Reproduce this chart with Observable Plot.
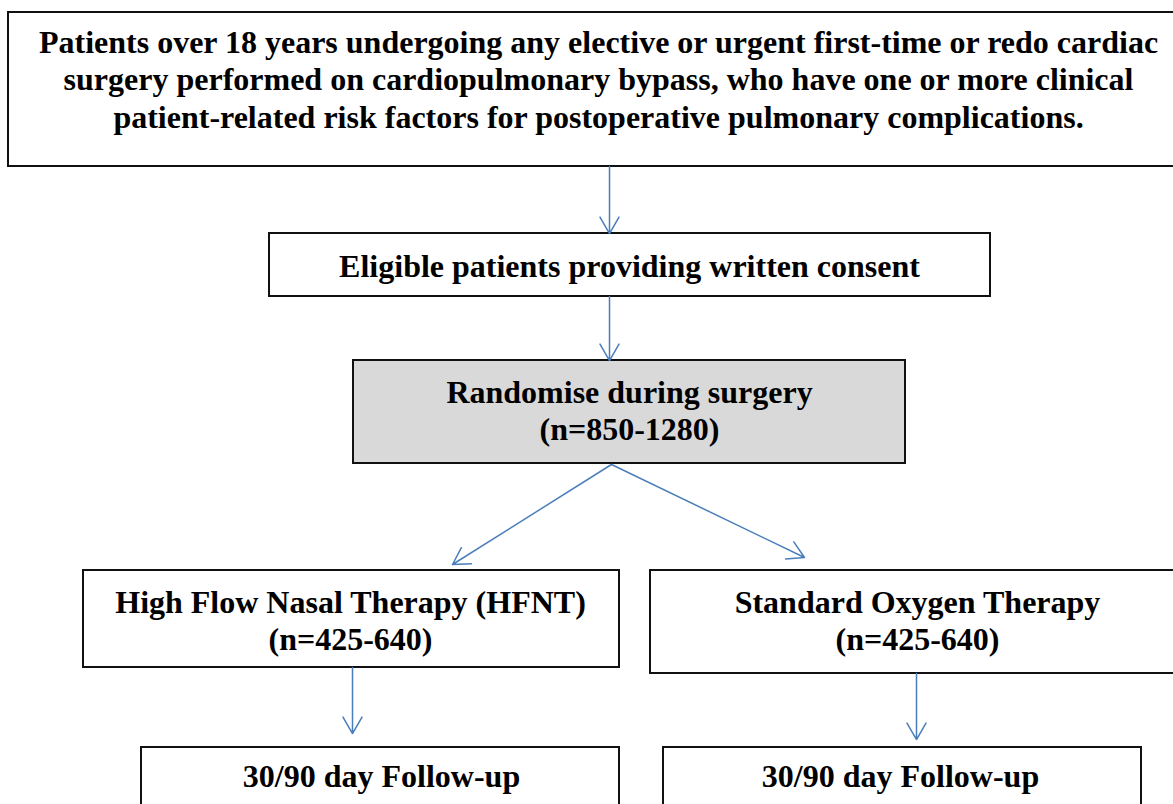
<!DOCTYPE html>
<html>
<head>
<meta charset="utf-8">
<script src="https://cdn.jsdelivr.net/npm/d3@7"></script>
<script src="https://cdn.jsdelivr.net/npm/@observablehq/plot@0.6"></script>
<style>
  html, body { margin: 0; padding: 0; background: #fff; overflow: hidden; }
  #chart svg { display: block; }
</style>
</head>
<body>
<div id="chart"></div>
<script>
// ---- Content (flowchart stages) ----
const stageIds = ["population", "eligible", "randomise", "hfnt", "standard", "followLeft", "followRight"];
const stageLabels = [
  "Patients over 18 years undergoing any elective or urgent first-time or redo cardiac\nsurgery performed on cardiopulmonary bypass, who have one or more clinical\npatient-related risk factors for postoperative pulmonary complications.",
  "Eligible patients providing written consent",
  "Randomise during surgery\n(n=850-1280)",
  "High Flow Nasal Therapy (HFNT)\n(n=425-640)",
  "Standard Oxygen Therapy\n(n=425-640)",
  "30/90 day Follow-up",
  "30/90 day Follow-up"
];
const stageHighlighted = [false, false, true, false, false, false, false];
// flow links (from stage -> to stage)
const linkFrom = ["population", "eligible", "randomise", "randomise", "hfnt", "standard"];
const linkTo   = ["eligible", "randomise", "hfnt", "standard", "followLeft", "followRight"];

// ---- Layout (pixel coordinates of the page) ----
const boxX1 = [8, 269, 353, 83, 650, 141, 663];
const boxX2 = [1188, 990, 905, 619, 1186, 619, 1141];
const boxY1 = [12, 233, 360, 570, 570, 747, 747];
const boxY2 = [166, 296, 463, 667, 673, 830, 830];
const textX = [598, 629, 629, 350, 917, 381, 900];
const textY = [78, 265, 409, 619, 619, 775, 775];
const linkX1 = [609, 609, 611, 611, 352, 916];
const linkY1 = [166, 296, 464, 464, 667, 673];
const linkX2 = [609, 609, 452, 804, 352, 916];
const linkY2 = [233, 360, 564, 557, 733, 739];

const W = 1173, H = 804;

const boxes = stageIds.map((id, i) => ({
  id, label: stageLabels[i], hi: stageHighlighted[i],
  x1: boxX1[i], x2: boxX2[i], y1: boxY1[i], y2: boxY2[i], tx: textX[i], ty: textY[i]
}));
const links = linkFrom.map((f, i) => ({
  from: f, to: linkTo[i], x1: linkX1[i], y1: linkY1[i], x2: linkX2[i], y2: linkY2[i]
}));

const font = "Liberation Serif";

const chart = Plot.plot({
  width: W,
  height: H,
  margin: 0,
  x: {domain: [0, W], range: [0, W], axis: null},
  y: {domain: [0, H], range: [0, H], axis: null},
  style: {background: "#fff", fontFamily: font},
  marks: [
    Plot.rect(boxes, {
      x1: "x1", x2: "x2", y1: "y1", y2: "y2",
      fill: d => d.hi ? "#d9d9d9" : "#ffffff",
      stroke: "#111",
      strokeWidth: 2
    }),
    Plot.arrow(links, {
      x1: "x1", y1: "y1", x2: "x2", y2: "y2",
      stroke: "#4a7ebb",
      strokeWidth: 1.5,
      headLength: 19,
      headAngle: 60
    }),
    Plot.text(boxes, {
      x: "tx", y: "ty", text: "label",
      fontSize: 32,
      fontWeight: "bold",
      fontFamily: font,
      fill: "#000",
      textAnchor: "middle",
      lineAnchor: "middle",
      lineHeight: 1.17
    })
  ]
});
document.getElementById("chart").appendChild(chart);
</script>
</body>
</html>
